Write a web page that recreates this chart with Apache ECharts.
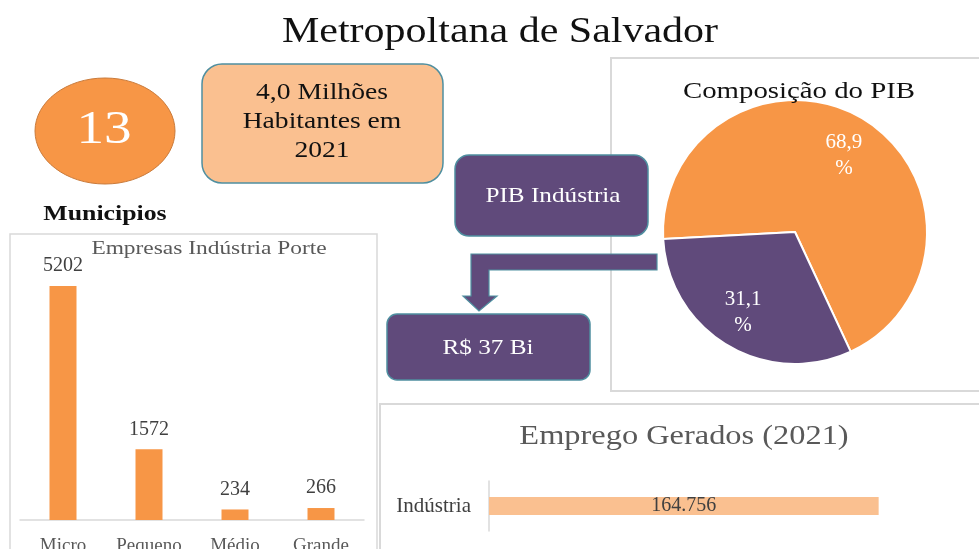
<!DOCTYPE html>
<html><head><meta charset="utf-8">
<script src="https://cdn.jsdelivr.net/npm/echarts@6/dist/echarts.min.js"></script>
<style>html,body{margin:0;padding:0;background:#fff}#c{width:979px;height:549px}</style>
</head><body><div id="c"></div>
<script>
const porteCategories = ['Micro', 'Pequeno', 'Médio', 'Grande'];
const porteValues = [5202, 1572, 234, 266];
const pibNames = ['Outros', 'Indústria'];
const pibValues = [68.9, 31.1];
const empregoCategories = ['Indústria'];
const empregoValues = [164756];

const F = '"Liberation Serif", "Times New Roman", serif';
const ORANGE = '#F79646', PURPLE = '#604A7B', PEACH = '#FAC090', TEAL = '#4F8FA0';
const SX = 1.2;

function txt(x, y, text, size, color, extra) {
  return Object.assign({type: 'text', x: x, y: y, scaleX: SX, z: 10,
    style: Object.assign({text: text, fontFamily: F, fontSize: size, fill: color,
      align: 'center', verticalAlign: 'middle'}, extra || {})});
}

const chart = echarts.init(document.getElementById('c'));
chart.setOption({
  animation: false,
  graphic: [
    {type: 'rect', shape: {x: 10, y: 234, width: 367, height: 330}, style: {fill: 'none', stroke: '#d9d9d9', lineWidth: 1.5}, z: -1},
    {type: 'rect', shape: {x: 611, y: 58, width: 380, height: 333}, style: {fill: 'none', stroke: '#d9d9d9', lineWidth: 2}, z: -1},
    {type: 'rect', shape: {x: 380, y: 404, width: 610, height: 160}, style: {fill: 'none', stroke: '#d9d9d9', lineWidth: 2}, z: -1},
    txt(500, 33, 'Metropoltana de Salvador', 35, '#111'),
    txt(209, 249, 'Empresas Indústria Porte', 19.5, '#595959'),
    txt(799, 92, 'Composição do PIB', 24, '#111'),
    txt(684, 437, 'Emprego Gerados (2021)', 27, '#595959'),
    {type: 'ellipse', shape: {cx: 105, cy: 131, rx: 70, ry: 53}, style: {fill: ORANGE, stroke: '#C97A3A', lineWidth: 1}},
    txt(104, 131, '13', 46, '#fff'),
    txt(105, 214, 'Municipios', 21.5, '#111', {fontWeight: 'bold'}),
    {type: 'rect', shape: {x: 202, y: 64, width: 241, height: 119, r: 20}, style: {fill: PEACH, stroke: TEAL, lineWidth: 1.5}},
    txt(322, 122, '4,0 Milhões\nHabitantes em\n2021', 23, '#111', {lineHeight: 29}),
    {type: 'rect', shape: {x: 455, y: 155, width: 193, height: 81, r: 14}, style: {fill: PURPLE, stroke: TEAL, lineWidth: 1.5}},
    txt(553, 196, 'PIB Indústria', 21, '#fff'),
    {type: 'rect', shape: {x: 387, y: 314, width: 203, height: 66, r: 10}, style: {fill: PURPLE, stroke: TEAL, lineWidth: 1.5}},
    txt(488, 348, 'R$ 37 Bi', 21, '#fff'),
    {type: 'polygon', shape: {points: [[657, 254], [471, 254], [471, 296], [463, 296], [479, 311], [497, 296], [489, 296], [489, 270], [657, 270]]},
     style: {fill: PURPLE, stroke: TEAL, lineWidth: 1.2}, z: 1}
  ],
  grid: [
    {left: 20, top: 250, width: 344, height: 270, outerBoundsMode: 'none', containLabel: false},
    {left: 489, top: 481, width: 473, height: 50, outerBoundsMode: 'none', containLabel: false}
  ],
  xAxis: [
    {gridIndex: 0, type: 'category', data: porteCategories,
     axisLine: {lineStyle: {color: '#d9d9d9', width: 1.5}}, axisTick: {show: false},
     axisLabel: {interval: 0, hideOverlap: false, fontFamily: F, fontSize: 19, color: '#595959', margin: 17}},
    {gridIndex: 1, type: 'value', min: 0, max: 200000, show: false, splitLine: {show: false}}
  ],
  yAxis: [
    {gridIndex: 0, type: 'value', min: 0, max: 6000, show: false, splitLine: {show: false}},
    {gridIndex: 1, type: 'category', data: empregoCategories,
     axisLine: {lineStyle: {color: '#d9d9d9', width: 1.5}}, axisTick: {show: false},
     axisLabel: {fontFamily: F, fontSize: 21, color: '#404040', margin: 18}}
  ],
  series: [
    {type: 'bar', xAxisIndex: 0, yAxisIndex: 0, data: porteValues, barWidth: 27,
     itemStyle: {color: ORANGE},
     label: {show: true, position: 'top', distance: 10, fontFamily: F, fontSize: 20, color: '#404040'}},
    {type: 'bar', xAxisIndex: 1, yAxisIndex: 1, data: empregoValues, barWidth: 18,
     itemStyle: {color: PEACH},
     label: {show: true, position: 'inside', fontFamily: F, fontSize: 20, color: '#404040',
       formatter: p => p.value.toString().replace(/\B(?=(\d{3})+(?!\d))/g, '.')}},
    {type: 'pie', center: [795, 232], radius: [0, 132], startAngle: 183, clockwise: true,
     data: pibNames.map((n, i) => ({name: n, value: pibValues[i]})),
     color: [ORANGE, PURPLE],
     itemStyle: {borderColor: '#fff', borderWidth: 2},
     label: {show: false}, labelLine: {show: false}, silent: true},
    {type: 'pie', center: [795, 232], radius: [52, 132], startAngle: 183, clockwise: true,
     data: pibNames.map((n, i) => ({name: n, value: pibValues[i],
       label: i === 0 ? {offset: [0, 5]} : {offset: [-3, -1]}})),
     itemStyle: {color: 'rgba(0,0,0,0)'}, silent: true, z: 3,
     label: {show: true, position: 'inside', fontFamily: F, fontSize: 21, lineHeight: 26, color: '#fff',
       formatter: p => p.value.toFixed(1).replace('.', ',') + '\n%'},
     labelLine: {show: false}}
  ]
});
</script></body></html>
